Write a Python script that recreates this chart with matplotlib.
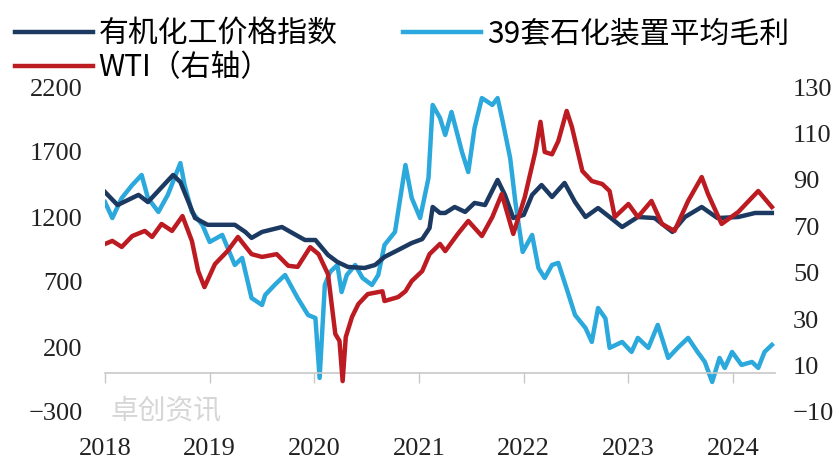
import numpy as np
import matplotlib.pyplot as plt

# 有机化工价格指数 (left axis)
idx_t = [2018.00, 2018.12, 2018.32, 2018.41, 2018.65, 2018.72, 2018.86, 2018.98,
         2019.24, 2019.34, 2019.40, 2019.50, 2019.69, 2019.79, 2019.91, 2020.01,
         2020.13, 2020.22, 2020.32, 2020.48, 2020.58, 2020.67, 2020.80, 2020.93,
         2021.03, 2021.10, 2021.13, 2021.20, 2021.25, 2021.34, 2021.44, 2021.53,
         2021.63, 2021.75, 2021.82, 2021.90, 2022.00, 2022.08, 2022.17, 2022.27,
         2022.39, 2022.49, 2022.59, 2022.71, 2022.82, 2022.94, 2023.09, 2023.25,
         2023.42, 2023.54, 2023.70, 2023.85, 2024.05, 2024.21, 2024.37]
idx_v = [1392, 1292, 1370, 1315, 1523, 1469, 1192, 1140,
         1140, 1085, 1039, 1085, 1123, 1077, 1023, 1023,
         908, 854, 816, 808, 831, 893, 946, 1000,
         1030, 1115, 1277, 1231, 1231, 1277, 1239, 1308,
         1292, 1485, 1370, 1192, 1216, 1370, 1446, 1354,
         1462, 1315, 1200, 1269, 1200, 1123, 1200, 1192,
         1085, 1200, 1277, 1192, 1200, 1231, 1231]

# 39套石化装置平均毛利 (left axis)
margin_t = [2018.00, 2018.07, 2018.16, 2018.26, 2018.35, 2018.41, 2018.51, 2018.60,
            2018.72, 2018.76, 2018.83, 2018.93, 2019.00, 2019.12, 2019.24, 2019.31,
            2019.40, 2019.50, 2019.53, 2019.62, 2019.72, 2019.84, 2019.94, 2020.01,
            2020.05, 2020.10, 2020.15, 2020.22, 2020.26, 2020.31, 2020.39, 2020.46,
            2020.55, 2020.61, 2020.67, 2020.77, 2020.87, 2020.93, 2021.01, 2021.09,
            2021.13, 2021.20, 2021.25, 2021.31, 2021.41, 2021.47, 2021.53, 2021.60,
            2021.70, 2021.75, 2021.80, 2021.87, 2021.92, 2021.99, 2022.08, 2022.14,
            2022.20, 2022.27, 2022.33, 2022.42, 2022.49, 2022.59, 2022.65, 2022.71,
            2022.78, 2022.82, 2022.94, 2023.03, 2023.09, 2023.19, 2023.28, 2023.38,
            2023.47, 2023.57, 2023.66, 2023.73, 2023.80, 2023.87, 2023.92, 2023.99,
            2024.08, 2024.18, 2024.24, 2024.30, 2024.37]
margin_v = [1315, 1192, 1346, 1446, 1523, 1346, 1239, 1370,
            1615, 1446, 1239, 1139, 1008, 1062, 831, 885,
            577, 523, 600, 677, 754, 577, 446, 423,
            -38, 677, 777, 831, 623, 754, 831, 731,
            677, 754, 985, 1085, 1600, 1346, 1192, 1500,
            2062, 1962, 1831, 2008, 1700, 1546, 1885, 2115,
            2062, 2115, 1931, 1654, 1315, 931, 1062, 808,
            731, 831, 847, 623, 446, 346, 239, 500,
            420, 193, 239, 162, 270, 193, 370, 116,
            193, 270, 162, 85, -69, 116, 39, 162,
            62, 85, 39, 162, 216]

# WTI (right axis)
wti_t = [2018.00, 2018.07, 2018.16, 2018.26, 2018.38, 2018.45, 2018.54, 2018.64,
         2018.74, 2018.83, 2018.89, 2018.95, 2019.05, 2019.17, 2019.27, 2019.40,
         2019.50, 2019.64, 2019.75, 2019.84, 2019.96, 2020.04, 2020.13, 2020.20,
         2020.24, 2020.27, 2020.30, 2020.36, 2020.42, 2020.51, 2020.65, 2020.67,
         2020.80, 2020.87, 2020.93, 2021.03, 2021.10, 2021.20, 2021.25, 2021.37,
         2021.47, 2021.60, 2021.70, 2021.79, 2021.90, 2022.01, 2022.11, 2022.16,
         2022.20, 2022.27, 2022.33, 2022.41, 2022.46, 2022.56, 2022.65, 2022.75,
         2022.82, 2022.87, 2023.00, 2023.09, 2023.22, 2023.32, 2023.44, 2023.57,
         2023.70, 2023.76, 2023.89, 2024.05, 2024.24, 2024.37]
wti_v = [62.4, 63.7, 61.1, 65.8, 68.0, 65.4, 71.0, 68.0,
         74.4, 63.7, 50.7, 43.8, 53.7, 59.3, 65.4, 58.0,
         56.8, 58.0, 53.0, 52.5, 61.0, 58.0, 49.4, 23.6,
         20.6, 3.3, 22.3, 31.0, 36.5, 40.8, 42.0, 37.8,
         39.5, 42.0, 46.4, 50.7, 58.0, 62.4, 59.3, 66.7,
         72.3, 65.8, 74.0, 83.9, 66.7, 82.6, 102.0, 115.0,
         102.0, 101.0, 106.7, 119.7, 112.8, 93.8, 89.5, 88.2,
         85.2, 74.0, 79.6, 74.0, 80.9, 71.0, 68.0, 80.9,
         91.2, 83.9, 71.0, 76.2, 85.2, 78.3]

years = [2018, 2019, 2020, 2021, 2022, 2023, 2024]
left_ticks = [-300, 200, 700, 1200, 1700, 2200]
right_ticks = [-10, 10, 30, 50, 70, 90, 110, 130]

cjk = ['Noto Sans CJK SC', 'DejaVu Sans']
num_font = 'Liberation Serif'

fig = plt.figure(figsize=(8.39, 4.63), dpi=100)
ax = fig.add_axes([105 / 839, 1 - 412 / 463, (775 - 105) / 839, (412 - 87) / 463])
ax2 = ax.twinx()

l1, = ax.plot(idx_t, idx_v, color='#1C3A61', lw=3.2, zorder=3)
l2, = ax.plot(margin_t, margin_v, color='#2BA8DC', lw=3.2, zorder=2)
l3, = ax2.plot(wti_t, wti_v, color='#BC1B22', lw=3.2)

ax.set_xlim(2018.0, 2024.40)
ax.set_ylim(-300, 2200)
ax2.set_ylim(-10, 130)

ax.set_yticks(left_ticks)
ax2.set_yticks(right_ticks)
ax.set_xticks(years)
ax.set_xticklabels([str(y) for y in years])

for s in ['top', 'left', 'right']:
    ax.spines[s].set_visible(False)
for s in ax2.spines.values():
    s.set_visible(False)
ax.spines['bottom'].set_position(('data', 0))
ax.spines['bottom'].set_color('#C8C8C8')
ax.spines['bottom'].set_linewidth(1.2)

ax.tick_params(axis='y', length=0, pad=16, labelsize=19)
ax2.tick_params(axis='y', length=0, pad=13, labelsize=19)
ax.tick_params(axis='x', length=7, width=1, color='#C8C8C8', pad=40, labelsize=19)
for lab in ax.get_xticklabels() + ax.get_yticklabels() + ax2.get_yticklabels():
    lab.set_fontfamily(num_font)
    lab.set_color('#222222')

# watermark
fig.text(110 / 839, 1 - 411 / 463, '卓创资讯', family=cjk, fontsize=20,
         color='#D6D6D6', va='center', ha='left')

fig.legend([l1, l3, l2], ['有机化工价格指数', 'WTI（右轴）', '39套石化装置平均毛利'],
           ncol=2, loc='upper left', bbox_to_anchor=(15 / 839, 1 - 18 / 463),
           frameon=False, prop={'family': cjk, 'size': 21.5},
           handlelength=2.6, handletextpad=0.2, columnspacing=2.2,
           labelspacing=0.1, borderaxespad=0, borderpad=0)

fig.savefig('out.png', dpi=100)
